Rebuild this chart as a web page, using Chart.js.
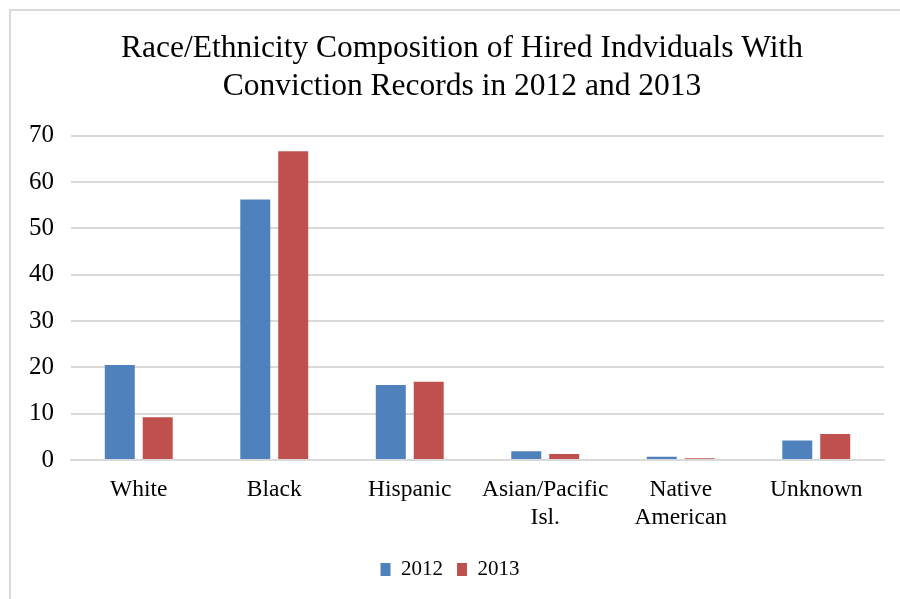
<!DOCTYPE html>
<html>
<head>
<meta charset="utf-8">
<script src="https://cdn.jsdelivr.net/npm/chart.js@4.4.0/dist/chart.umd.min.js"></script>
<style>
html,body{margin:0;padding:0;background:#fff;}
#wrap{position:absolute;left:0;top:0;width:900px;height:599px;}
</style>
</head>
<body>
<div id="wrap"><canvas id="c" width="900" height="599"></canvas></div>
<script>
const categories = ["White", "Black", "Hispanic", ["Asian/Pacific", "Isl."], ["Native", "American"], "Unknown"];
const seriesNames = ["2012", "2013"];
const values2012 = [20.5, 56.2, 16.2, 1.9, 0.7, 4.2];
const values2013 = [9.2, 66.6, 16.9, 1.3, 0.4, 5.6];
const titleLines = ["Race/Ethnicity Composition of Hired Indviduals With", "Conviction Records in 2012 and 2013"];

const frame = {
  id: 'frame',
  afterLayout(chart) {
    const t = chart.titleBlock;
    if (t) { t.left += 40; t.width = t.right - t.left; }
    const l = chart.legend;
    if (l) { l.left += 16; l.width = l.right - l.left; }
  },
  afterDraw(chart) {
    const ctx = chart.ctx;
    ctx.save();
    ctx.strokeStyle = '#d9d9d9';
    ctx.lineWidth = 2;
    ctx.beginPath();
    ctx.moveTo(10, 599);
    ctx.lineTo(10, 10);
    ctx.lineTo(900, 10);
    ctx.stroke();
    ctx.restore();
  }
};

new Chart(document.getElementById('c'), {
  type: 'bar',
  data: {
    labels: categories,
    datasets: [
      { label: seriesNames[0], data: values2012, backgroundColor: '#4f81bd', borderWidth: 0 },
      { label: seriesNames[1], data: values2013, backgroundColor: '#c0504d', borderWidth: 0 }
    ]
  },
  plugins: [frame],
  options: {
    responsive: false,
    animation: false,
    devicePixelRatio: 1,
    layout: { padding: { left: 0, right: 16, top: 0, bottom: 9 } },
    datasets: { bar: { categoryPercentage: 0.56, barPercentage: 0.79 } },
    plugins: {
      title: {
        display: true,
        text: titleLines,
        color: '#000',
        font: { family: 'Liberation Serif', size: 31.5, weight: 'normal', lineHeight: 1.2 },
        padding: { top: 30, bottom: 30 }
      },
      legend: {
        display: true,
        position: 'bottom',
        labels: {
          color: '#000',
          font: { family: 'Liberation Serif', size: 21 },
          boxWidth: 10, boxHeight: 13, padding: 14
        }
      },
      tooltip: { enabled: false }
    },
    scales: {
      x: {
        afterFit(scale) { scale.height = 85; },
        grid: { display: false, drawTicks: false },
        border: { display: true, color: '#d9d9d9', width: 2 },
        ticks: { color: '#000', font: { family: 'Liberation Serif', size: 23.5, lineHeight: 1.2 }, padding: 16, maxRotation: 0, autoSkip: false }
      },
      y: {
        min: 0, max: 70,
        afterFit(scale) { scale.width = 71; },
        grid: { color: '#d9d9d9', lineWidth: 2, drawTicks: false },
        border: { display: false },
        ticks: { stepSize: 10, color: '#000', font: { family: 'Liberation Serif', size: 25 }, padding: 17 }
      }
    }
  }
});
</script>
</body>
</html>
